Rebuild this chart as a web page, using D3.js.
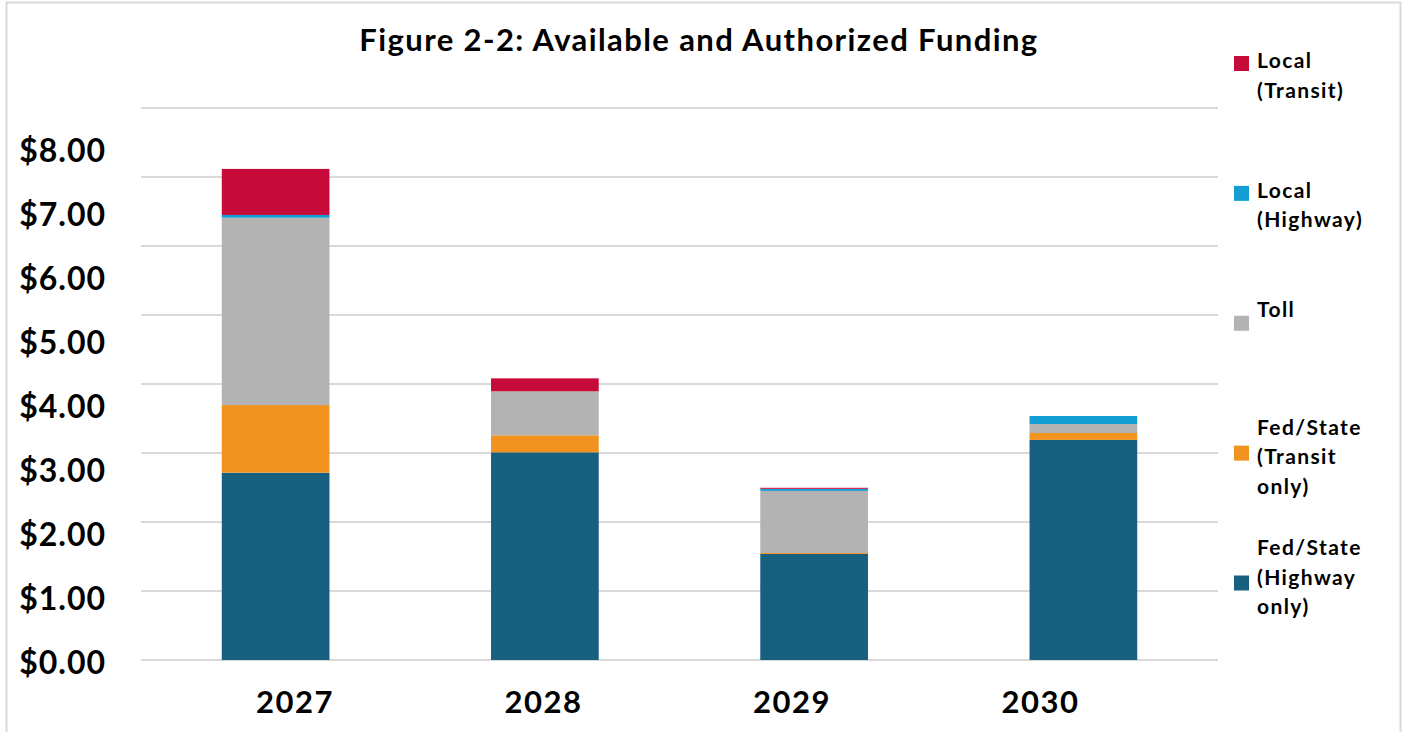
<!DOCTYPE html>
<html><head><meta charset="utf-8">
<script src="https://cdn.jsdelivr.net/npm/d3@7"></script>
<style>
html,body{margin:0;padding:0;background:#fff;}
text{font-family:Lato,"Open Sans",sans-serif;font-weight:700;fill:#000;}
</style></head>
<body><svg id="c" width="1408" height="732"></svg>
<script>
const years = ["2027","2028","2029","2030"];
const fedStateHighway = [2.715, 3.01, 1.536, 3.19];
const fedStateTransit = [0.98, 0.246, 0.015, 0.10];
const toll = [2.715, 0.638, 0.90, 0.13];
const localHighway = [0.04, 0.0, 0.03, 0.116];
const localTransit = [0.667, 0.188, 0.015, 0.0];
const seriesNames = ["Fed/State (Highway only)","Fed/State (Transit only)","Toll","Local (Highway)","Local (Transit)"];
const legendLines = [["Local","(Transit)"],["Local","(Highway)"],["Toll"],["Fed/State","(Transit","only)"],["Fed/State","(Highway","only)"]];
const yTicks = [0,1,2,3,4,5,6,7,8];
const title = "Figure 2-2: Available and Authorized Funding";

const colors = ["#17607f","#f0931f","#b3b3b3","#139fd5","#c60b3b"];
const keys = ["fsh","fst","toll","lh","lt"];
const table = years.map((y,i)=>({year:y,fsh:fedStateHighway[i],fst:fedStateTransit[i],toll:toll[i],lh:localHighway[i],lt:localTransit[i]}));
const stacked = d3.stack().keys(keys)(table);

const svg = d3.select("#c");
// frame
svg.append("rect").attr("x",6.5).attr("y",2.5).attr("width",1394).attr("height",740)
  .attr("fill","none").attr("stroke","#d9d9d9").attr("stroke-width",2);

const x = d3.scaleBand().domain(years).range([141,1218]).paddingInner(0.6).paddingOuter(0.3);
const y = d3.scaleLinear().domain([0,8]).range([660,108]);
// label axes (offset as in the reference)
const yLab = d3.scaleLinear().domain([0,8]).range([663,151.7]);
const xLab = d3.scalePoint().domain(years).range([294.5,1040]);

// gridlines
svg.append("g").selectAll("line").data(yTicks).join("line")
  .attr("x1",141).attr("x2",1218).attr("y1",d=>y(d)).attr("y2",d=>y(d))
  .attr("stroke","#d9d9d9").attr("stroke-width",2);

// bars
svg.append("g").selectAll("g").data(stacked).join("g")
  .attr("fill",(d,i)=>colors[i])
  .selectAll("rect").data(d=>d).join("rect")
  .attr("x",d=>x(d.data.year)).attr("width",x.bandwidth())
  .attr("y",d=>y(d[1])).attr("height",d=>Math.max(0,y(d[0])-y(d[1])));

// y labels
const yAxis = d3.axisLeft(yLab).tickValues(yTicks).tickFormat(d=>"$"+d3.format(".2f")(d)).tickSize(0).tickPadding(0);
const ga = svg.append("g").attr("transform","translate(106,0)").call(yAxis);
ga.select(".domain").remove();
ga.selectAll("text").attr("font-size",32).attr("font-family","Lato").attr("font-weight",700)
  .attr("letter-spacing",1).attr("fill","#000");

// x labels
const xAxis = d3.axisBottom(xLab).tickSize(0).tickPadding(0);
const gx = svg.append("g").attr("transform","translate(0,691)").call(xAxis);
gx.select(".domain").remove();
gx.selectAll("text").attr("font-size",31).attr("font-family","Lato").attr("font-weight",700)
  .attr("letter-spacing",1.5).attr("fill","#000");

// title
svg.append("text").attr("x",699).attr("y",51).attr("text-anchor","middle")
  .attr("font-size",31).attr("letter-spacing",1.4).text(title);

// legend (top to bottom: reverse series order)
const legKeys = keys.slice().reverse();
const legColors = colors.slice().reverse();
const ly = d3.scalePoint().domain(legKeys).range([63.5,583]);
const firstBaseline = [4.5,4.5,-6.3,-18.3,-28];
const lg = svg.append("g").selectAll("g").data(legKeys).join("g");
lg.append("rect").attr("x",1234).attr("y",d=>ly(d)-7.5).attr("width",15).attr("height",15)
  .attr("fill",(d,i)=>legColors[i]);
lg.append("text").attr("font-size",21).attr("letter-spacing",1.4).attr("x",1257)
  .each(function(d,i){
    const t=d3.select(this);
    legendLines[i].forEach((ln,j)=>{
      t.append("tspan").attr("x",1257).attr("y",ly(d)+firstBaseline[i]+j*29.5).text(ln);
    });
  });
</script></body></html>
